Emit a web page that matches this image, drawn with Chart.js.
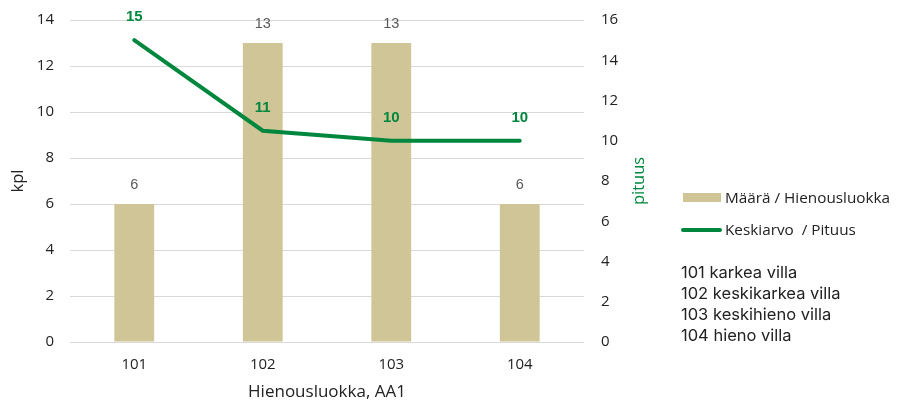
<!DOCTYPE html>
<html><head><meta charset="utf-8">
<script src="https://cdn.jsdelivr.net/npm/chart.js@4"></script>
<style>
html,body{margin:0;padding:0;background:#fff;}
#wrap{position:relative;width:906px;height:403px;}
canvas{position:absolute;left:0;top:0;}
.leg{position:absolute;font-family:"Open Sans",sans-serif;font-size:15.3px;color:#222;white-space:pre;line-height:18px;}
.notes{position:absolute;font-family:"Inter",sans-serif;font-size:16.5px;color:#222;white-space:pre;line-height:21px;}
.sw{position:absolute;}
</style></head><body>
<div id="wrap">
<canvas id="c" width="906" height="403"></canvas>
<div class="sw" style="left:683px;top:193px;width:38px;height:9px;background:#cfc596;"></div>
<div class="leg" style="left:725px;top:188px;">Määrä / Hienousluokka</div>
<div class="sw" style="left:681px;top:228px;width:41px;height:4px;background:#00873e;border-radius:2px;"></div>
<div class="leg" style="left:725px;top:220px;">Keskiarvo  / Pituus</div>
<div class="notes" style="left:681px;top:262px;">101 karkea villa
102 keskikarkea villa
103 keskihieno villa
104 hieno villa</div>
</div>
<script>
const categories = ['101','102','103','104'];
const maara = [6, 13, 13, 6];
const pituus = [15, 10.5, 10, 10];
const leftTicks = [0,2,4,6,8,10,12,14];
const rightTicks = [0,2,4,6,8,10,12,14,16];

const GREEN = '#00873e';
const tickFont = {family:'"Open Sans", sans-serif', size:15};

const labelPlugin = {
  id:'vlabels',
  afterDatasetsDraw(chart){
    const ctx = chart.ctx;
    ctx.save();
    ctx.textAlign='center';
    ctx.textBaseline='middle';
    const mb = chart.getDatasetMeta(1);
    ctx.font = '14.5px "Liberation Sans", Arial, sans-serif';
    ctx.fillStyle = '#595959';
    mb.data.forEach((el,i)=>{ ctx.fillText(String(maara[i]), el.x, el.y-19); });
    const ml = chart.getDatasetMeta(0);
    ctx.font = 'bold 15px "Liberation Sans", Arial, sans-serif';
    ctx.fillStyle = GREEN;
    ml.data.forEach((el,i)=>{ ctx.fillText(String(Math.round(pituus[i])), el.x, el.y-23); });
    // right axis title, reading bottom-to-top
    const s = chart.scales.y1;
    ctx.translate(639, (s.top + s.bottom)/2);
    ctx.rotate(-Math.PI/2);
    ctx.font = '16.5px "Open Sans", sans-serif';
    ctx.fillText('pituus', 0, 0);
    ctx.restore();
  }
};

function fixVert(w){
  return function(s){ s.width = w; s.paddingTop = 0; s.paddingBottom = 0; };
}

new Chart(document.getElementById('c'), {
  type:'bar',
  data:{
    labels:categories,
    datasets:[
      {type:'line', label:'Keskiarvo / Pituus', data:pituus, yAxisID:'y1', borderColor:GREEN, borderWidth:4, pointRadius:0, tension:0, borderCapStyle:'round', order:0},
      {type:'bar', label:'Määrä / Hienousluokka', data:maara, yAxisID:'y', backgroundColor:'#cfc596', barPercentage:0.31, categoryPercentage:1, order:1}
    ]
  },
  options:{
    responsive:false, animation:false,
    layout:{padding:{left:0,right:252,top:20,bottom:0}},
    plugins:{legend:{display:false}, tooltip:{enabled:false}},
    scales:{
      x:{
        grid:{display:false, drawTicks:false}, border:{display:false},
        ticks:{font:tickFont, color:'#222', padding:14},
        title:{display:true, text:'Hienousluokka, AA1', font:{family:'"Open Sans", sans-serif', size:17}, color:'#222', padding:{top:0,bottom:1}},
        afterFit(s){ s.height = 61; s.paddingLeft = 0; s.paddingRight = 0; }
      },
      y:{
        position:'left', min:0, max:14,
        afterBuildTicks(s){ s.ticks = leftTicks.map(v=>({value:v})); },
        grid:{color:'#d9d9d9', drawTicks:false}, border:{display:false},
        ticks:{font:tickFont, color:'#222', padding:16},
        title:{display:true, text:'kpl', font:{family:'"Open Sans", sans-serif', size:16.5}, color:'#222', padding:{top:8,bottom:0}},
        afterFit: fixVert(70)
      },
      y1:{
        position:'right', min:0, max:16,
        afterBuildTicks(s){ s.ticks = rightTicks.map(v=>({value:v})); },
        grid:{display:false, drawTicks:false}, border:{display:false},
        ticks:{font:tickFont, color:'#222', padding:17},
        title:{display:false},
        afterFit: fixVert(70)
      }
    }
  },
  plugins:[labelPlugin]
});
</script>
</body></html>
